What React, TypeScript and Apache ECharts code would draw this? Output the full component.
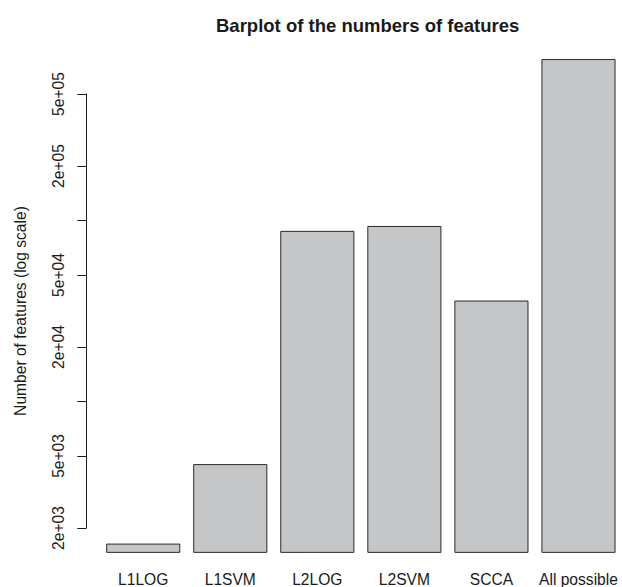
import React, { useEffect, useRef } from "react";
import * as echarts from "echarts";

const categories = ["L1LOG", "L1SVM", "L2LOG", "L2SVM", "SCCA", "All possible"];
const featureCounts = [1630, 4480, 87100, 92700, 35900, 775000];
const tickValues = [2000, 5000, 10000, 20000, 50000, 100000, 200000, 500000];
const labeledTickValues = [2000, 5000, 20000, 50000, 200000, 500000];

const FONT = "'Liberation Sans', Arial, Helvetica, sans-serif";

function fmtSci(v: number): string {
  const n = Math.round(Math.pow(10, v));
  const [m, e] = n.toExponential(0).split("e");
  const sign = e[0] === "-" ? "-" : "+";
  const digits = e.replace(/^[+-]/, "");
  return m + "e" + sign + (digits.length < 2 ? "0" + digits : digits);
}

export default function App() {
  const ref = useRef<HTMLDivElement>(null);
  useEffect(() => {
    document.body.style.margin = "0";
    const chart = echarts.init(ref.current!, null, { renderer: "svg" });
    const logVals = featureCounts.map((v) => Math.log10(v));
    const baseLog = Math.log10(0.9 * Math.min(...featureCounts));
    const yMin = Math.log10(tickValues[0]);
    const yMax = Math.log10(tickValues[tickValues.length - 1]);
    chart.setOption({
      animation: false,
      backgroundColor: "#ffffff",
      title: {
        text: "Barplot of the numbers of features",
        left: 211,
        top: 11,
        textStyle: { fontFamily: FONT, fontSize: 18.5, fontWeight: "bold", color: "#1a1a1a" },
      },
      grid: { left: 99.7, right: -1.5, top: 94, bottom: 58.3, containLabel: false },
      xAxis: {
        type: "category",
        data: categories,
        axisLine: { show: false },
        axisTick: { show: false },
        axisLabel: {
          fontFamily: FONT,
          fontSize: 15.6,
          color: "#1a1a1a",
          margin: 43,
          interval: 0,
        },
      },
      yAxis: {
        type: "value",
        min: yMin,
        max: yMax,
        offset: 13.4,
        name: "Number of features (log scale)",
        nameLocation: "middle",
        nameGap: 58,
        nameTextStyle: { fontFamily: FONT, fontSize: 15.6, color: "#1a1a1a" },
        splitLine: { show: false },
        axisLine: { show: true, lineStyle: { color: "#1a1a1a", width: 1 } },
        axisTick: {
          show: true,
          length: 9,
          lineStyle: { color: "#1a1a1a", width: 1 },
          customValues: tickValues.map((v) => Math.log10(v)),
        },
        axisLabel: {
          fontFamily: FONT,
          fontSize: 15.6,
          color: "#1a1a1a",
          rotate: 90,
          margin: 20,
          customValues: labeledTickValues.map((v) => Math.log10(v)),
          formatter: (v: number) => fmtSci(v),
        },
      },
      series: [
        {
          type: "custom",
          clip: false,
          encode: { x: 0, y: 1 },
          data: categories.map((c, i) => [i, logVals[i]]),
          renderItem: (params: any, api: any) => {
            const i = api.value(0);
            const v = api.value(1);
            const top = api.coord([i, v]);
            const bottom = api.coord([i, baseLog]);
            const w = api.size([1, 0])[0] * 0.84;
            return {
              type: "rect",
              shape: { x: top[0] - w / 2, y: top[1], width: w, height: bottom[1] - top[1] },
              style: { fill: "#c5c6c8", stroke: "#2a2a2a", lineWidth: 1 },
            };
          },
        },
      ],
    });
    return () => chart.dispose();
  }, []);
  return <div ref={ref} style={{ width: 622, height: 587 }} />;
}
